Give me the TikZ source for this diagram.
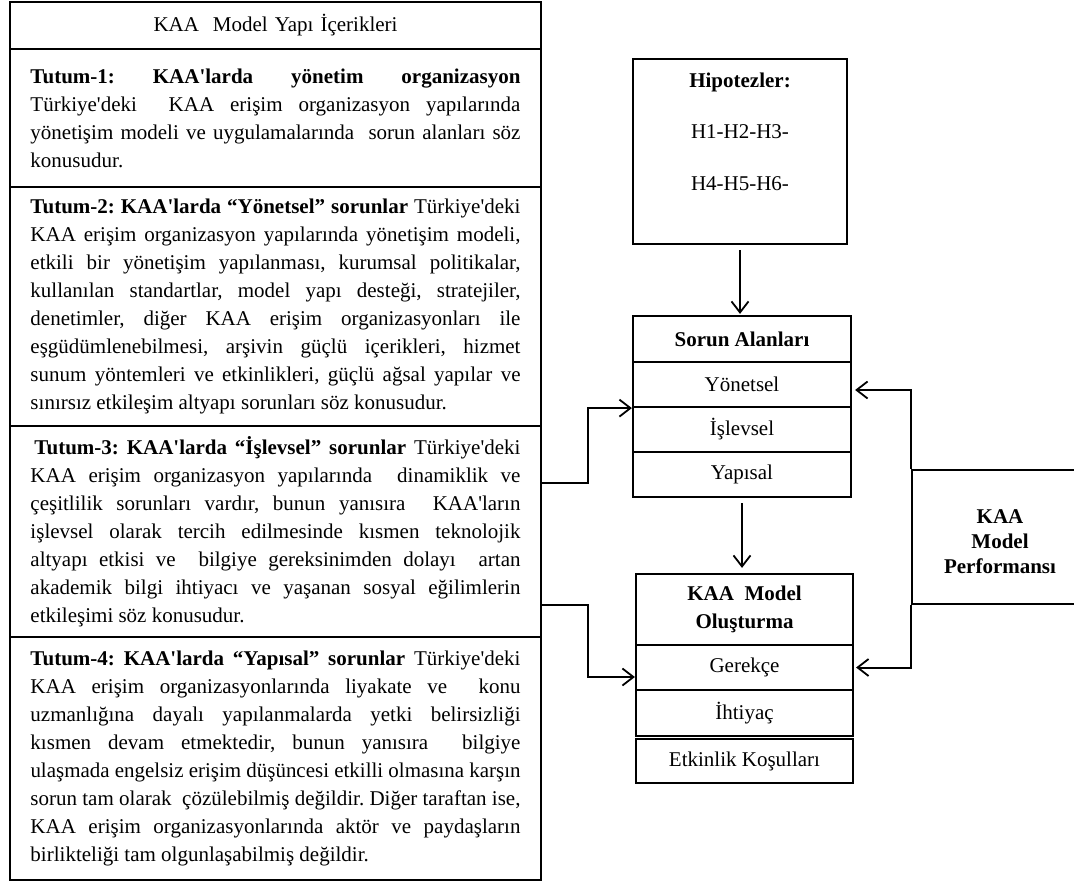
\documentclass[tikz,border=0pt]{standalone}
\usepackage{fontspec}
\setmainfont{Liberation Serif}[Ligatures=TeXOff]
\usepackage{graphicx}
\usetikzlibrary{arrows.meta}
\newlength\LineW \setlength\LineW{490pt}
\newsavebox\LineBox
\newcommand\SpFix{\spaceskip=0pt\xspaceskip=0pt\frenchspacing}
\newcommand\JL[1]{\SpFix\sbox\LineBox{#1}\ifdim\wd\LineBox>\LineW\resizebox{\LineW}{\height}{\usebox\LineBox}\else\makebox[\LineW][s]{#1}\fi}
\newcommand\LL[1]{\SpFix#1}
\tikzset{
  sec/.style={draw, line width=2.2pt, minimum width=531pt, text width=490pt, inner sep=0pt, align=left, font=\fontsize{21}{28}\selectfont},
  box/.style={draw, line width=2.2pt, inner sep=0pt, align=center, font=\fontsize{21}{28}\selectfont},
  lbl/.style={inner sep=0pt, align=center, font=\fontsize{21}{25}\selectfont},
  arr/.style={line width=2pt, -{Straight Barb[length=11pt,width=17pt,line width=1.8pt]}}
}
\begin{document}
\begin{tikzpicture}[x=1pt,y=-1pt]
\path[use as bounding box] (0,0) rectangle (1074,883);
\clip (0,0) rectangle (1074,883);
% left column
\node[sec, minimum height=47pt, align=center] (title) at (275.5,25.5) {KAA\ \ Model Yapı İçerikleri};
\node[sec, minimum height=138pt] (t1) at (275.5,118) {%
\JL{\textbf{Tutum-1: KAA'larda yönetim organizasyon}}\\
\JL{Türkiye'deki\ \ KAA erişim organizasyon yapılarında}\\
\JL{yönetişim modeli ve uygulamalarında\ \ sorun alanları söz}\\
\LL{konusudur.}};
\node[sec, minimum height=239pt] (t2) at (275.5,306.5) {%
\JL{\textbf{Tutum-2: KAA'larda “Yönetsel” sorunlar} Türkiye'deki}\\
\JL{KAA erişim organizasyon yapılarında yönetişim modeli,}\\
\JL{etkili bir yönetişim yapılanması, kurumsal politikalar,}\\
\JL{kullanılan standartlar, model yapı desteği, stratejiler,}\\
\JL{denetimler, diğer KAA erişim organizasyonları ile}\\
\JL{eşgüdümlenebilmesi, arşivin güçlü içerikleri, hizmet}\\
\JL{sunum yöntemleri ve etkinlikleri, güçlü ağsal yapılar ve}\\
\LL{sınırsız etkileşim altyapı sorunları söz konusudur.}};
\node[sec, minimum height=211pt] (t3) at (275.5,531.5) {%
\JL{\hspace{4pt}\textbf{Tutum-3: KAA'larda “İşlevsel” sorunlar} Türkiye'deki}\\
\JL{KAA erişim organizasyon yapılarında\ \ dinamiklik ve}\\
\JL{çeşitlilik sorunları vardır, bunun yanısıra\ \ KAA'ların}\\
\JL{işlevsel olarak tercih edilmesinde kısmen teknolojik}\\
\JL{altyapı etkisi ve\ \ bilgiye gereksinimden dolayı\ \ artan}\\
\JL{akademik bilgi ihtiyacı ve yaşanan sosyal eğilimlerin}\\
\LL{etkileşimi söz konusudur.}};
\node[sec, minimum height=243pt] (t4) at (275.5,758.5) {%
\JL{\textbf{Tutum-4: KAA'larda “Yapısal” sorunlar} Türkiye'deki}\\
\JL{KAA erişim organizasyonlarında liyakate ve\ \ konu}\\
\JL{uzmanlığına dayalı yapılanmalarda yetki belirsizliği}\\
\JL{kısmen devam etmektedir, bunun yanısıra\ \ bilgiye}\\
\JL{ulaşmada engelsiz erişim düşüncesi etkilli olmasına karşın}\\
\JL{sorun tam olarak\ \ çözülebilmiş değildir. Diğer taraftan ise,}\\
\JL{KAA erişim organizasyonlarında aktör ve paydaşların}\\
\LL{birlikteliği tam olgunlaşabilmiş değildir.}};
% hypotheses
\node[box, minimum width=214pt, minimum height=185pt] (hip) at (740,151.5) {};
\node[lbl] (hipT) at (740,82) {\textbf{Hipotezler:}};
\node[lbl] (h1) at (740,132) {H1-H2-H3-};
\node[lbl] (h2) at (740,184) {H4-H5-H6-};
% problem areas
\node[box, minimum width=218pt, minimum height=46pt] (srH) at (742,339) {\textbf{Sorun Alanları}};
\node[box, minimum width=218pt, minimum height=45pt] (sr1) at (742,384.5) {Yönetsel};
\node[box, minimum width=218pt, minimum height=45pt] (sr2) at (742,429.5) {İşlevsel};
\node[box, minimum width=218pt, minimum height=45pt] (sr3) at (742,474.5) {Yapısal};
% model building
\node[box, minimum width=217pt, minimum height=71pt] (kmH) at (744.5,609.5) {\textbf{KAA\ \ Model}\\\textbf{Oluşturma}};
\node[box, minimum width=217pt, minimum height=45pt] (km1) at (744.5,667.5) {Gerekçe};
\node[box, minimum width=217pt, minimum height=46pt] (km2) at (744.5,713) {İhtiyaç};
\node[box, minimum width=217pt, minimum height=44pt] (km3) at (744.5,761) {Etkinlik Koşulları};
% performance
\node[box, minimum width=188pt, minimum height=134pt] (perf) at (1006,537) {};
\node[lbl] (perfT) at (1000,542) {\textbf{KAA}\\\textbf{Model}\\\textbf{Performansı}};
% connectors
\coordinate (j1) at (588,0);
\coordinate (a2) at ([yshift=-9.5pt]km1.west);
\coordinate (a3) at ([yshift=-5.5pt]sr1.east);
\draw[arr, shorten <=5pt, shorten >=1pt] (hip.south) -- (hip.south |- srH.north);
\draw[arr, shorten <=5pt, shorten >=5pt] (sr3.south) -- (sr3.south |- kmH.north);
\draw[arr] ([yshift=48.5pt]t3.east) -| (j1 |- sr1.south) -- (sr1.south west);
\draw[arr] ([yshift=-73.5pt]t3.east) -| (j1 |- a2) -- (a2);
\draw[arr, shorten >=3pt] (perf.north west) |- (a3);
\draw[arr, shorten >=2pt] (perf.south west) |- (km1.east);
\end{tikzpicture}
\end{document}
